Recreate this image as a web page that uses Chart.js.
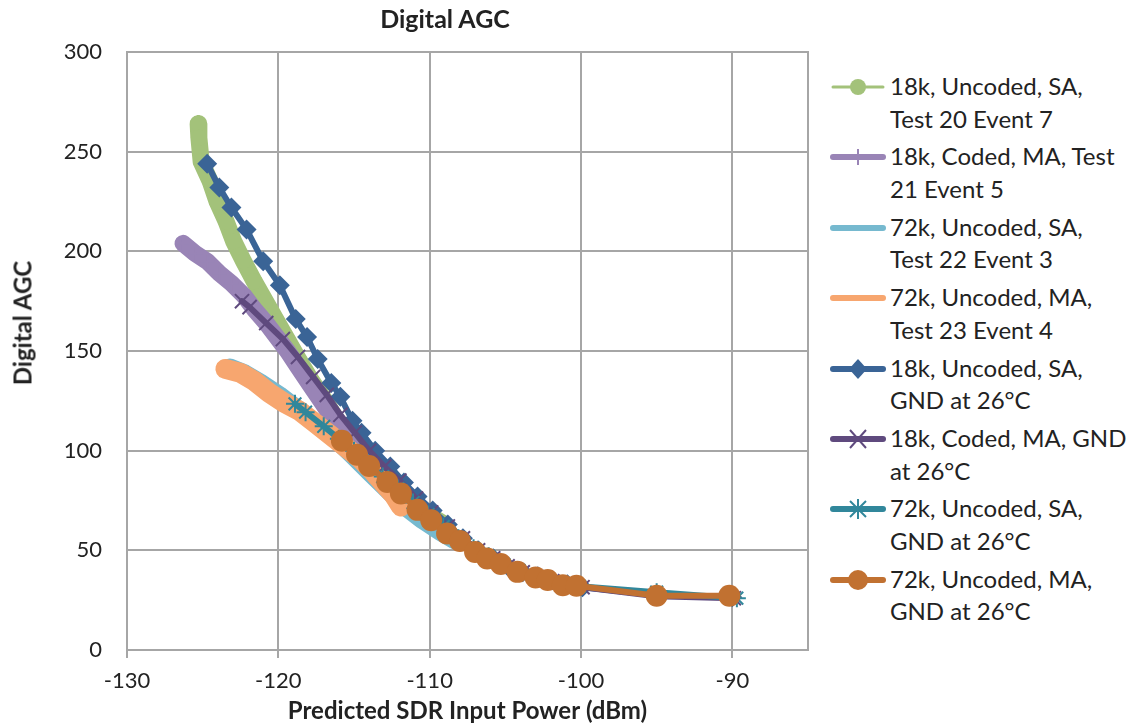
<!DOCTYPE html>
<html>
<head>
<meta charset="utf-8">
<title>Digital AGC</title>
<script src="https://cdn.jsdelivr.net/npm/chart.js@4/dist/chart.umd.min.js"></script>
<style>
  body { margin: 0; background: #fff; font-family: Lato, "Open Sans", sans-serif; color: #222; }
  #wrap { position: relative; width: 1129px; height: 727px; overflow: hidden; }
  #agcChart { position: absolute; left: 0; top: 0; }
  #chartTitle { position: absolute; left: 0; top: 3px; width: 890px; text-align: center;
                font-weight: bold; font-size: 25px; }
  #yTitle { position: absolute; left: 22px; top: 323px; transform: translate(-50%, -50%) rotate(-90deg);
            font-weight: bold; font-size: 24px; white-space: nowrap; }
  .legItem { position: absolute; left: 830px; width: 300px; height: 66px; }
  .legItem svg { position: absolute; left: 0; top: 0; }
  .legItem div { position: absolute; left: 60px; top: 0; font-size: 24px; line-height: 32.5px; white-space: nowrap; }
</style>
</head>
<body>
<div id="wrap">
  <canvas id="agcChart" width="820" height="727"></canvas>
  <div id="chartTitle">Digital AGC</div>
  <div id="yTitle">Digital AGC</div>
  <div id="legend"></div>
</div>
<script>
// --------------------------------------------------------------------------
// Daten
// --------------------------------------------------------------------------
const xTicks = [-130, -120, -110, -100, -90];

// 18k, Uncoded, SA, Test 20 Event 7
const test20X = [-125.3, -125.25, -125.1, -124.5, -124.05, -123.45, -122.95, -122.3, -121.6, -120.85, -120.1,
                 -119.35, -118.6, -117.8, -116.9, -116.1, -115.2, -114.1, -112.9, -111.7, -110.3, -109.0];
const test20Y = [264, 257, 245, 235, 225, 215, 205, 195, 185, 175, 165,
                 155, 145, 135, 125, 115, 105, 95, 85, 77, 69, 63];

// 18k, Coded, MA, Test 21 Event 5
const test21X = [-126.3, -125.5, -124.7, -123.9, -123.1, -122.3, -121.6, -120.8, -120.1, -119.4,
                 -118.7, -117.9, -117.1, -116.3, -115.5, -114.5, -113.3, -112.0, -110.5];
const test21Y = [204, 199, 195, 189, 184, 178, 171, 164, 157, 150,
                 142, 133, 124, 115, 105, 96, 87, 78, 70];

// 72k, Uncoded, SA, Test 22 Event 3
const test22X = [-123.2, -122.2, -121.1, -119.9, -118.7, -117.5, -116.3, -115.2, -114.0, -112.8,
                 -111.7, -110.5, -109.3, -108.4];
const test22Y = [142, 139, 134, 128, 121, 114, 106, 98, 89, 80,
                 72, 65, 59, 55];

// 72k, Uncoded, MA, Test 23 Event 4
const test23X = [-123.5, -122.5, -121.6, -120.6, -119.6, -118.6, -117.6, -116.6, -115.6, -114.6,
                 -113.8, -113.1, -112.4, -111.9];
const test23Y = [141, 139, 135, 129, 124, 120, 114, 108, 102, 96,
                 90, 84, 78, 72];

// 18k, Uncoded, SA, GND at 26°C
const gnd18kSAX = [-124.7, -123.9, -123.1, -122.1, -121.0, -119.9, -118.85, -118.1, -117.4, -116.5,
                   -115.9, -115.1, -114.5, -113.6, -112.6, -111.7, -110.8, -109.8, -108.8, -107.8,
                   -106.8, -105.8, -104.85, -103.85, -102.85, -101.9, -100.9, -99.9, -95.0, -90.0];
const gnd18kSAY = [244, 232, 222, 211, 195, 183, 166, 157, 146, 134,
                   127, 115, 109, 100, 92, 84, 77, 70, 63, 56,
                   50, 46, 42, 39, 37, 35, 33, 31.5, 27.5, 26.5];

// 18k, Coded, MA, GND at 26°C
const gnd18kMAX = [-122.4, -121.9, -120.8, -119.7, -118.7, -117.7, -116.8, -115.9, -114.95, -114.0,
                   -113.0, -112.0, -110.9, -109.9, -108.8, -107.8, -106.8, -105.8, -104.85, -103.85,
                   -102.9, -101.9, -100.9, -99.9, -95.0, -89.9];
const gnd18kMAY = [175, 172, 164, 156, 147, 137, 128, 118, 109, 100,
                   92, 85, 76, 69, 62, 56, 50, 46, 42, 39,
                   36.5, 34.5, 33, 31.5, 27, 26];

// 72k, Uncoded, SA, GND at 26°C
const gnd72kSAX = [-118.9, -118.2, -117.0, -116.0, -115.0, -114.1, -113.1, -112.1, -111.1, -110.1,
                   -109.1, -108.1, -107.1, -106.1, -105.1, -104.1, -103.1, -102.1, -101.1, -100.1,
                   -95.0, -89.7];
const gnd72kSAY = [123.5, 119.3, 112.2, 106, 100, 94, 87, 81, 74, 68,
                   62, 56, 51, 47, 43, 40, 37, 35, 33, 32,
                   29, 26];

// 72k, Uncoded, MA, GND at 26°C
const gnd72kMAX = [-115.8, -114.8, -114.0, -112.8, -111.9, -110.8, -109.9, -108.85, -108.0, -107.0,
                   -106.2, -105.3, -104.2, -103.0, -102.2, -101.2, -100.3, -95.0, -90.2];
const gnd72kMAY = [105, 98, 92.3, 84.3, 78.5, 70.3, 65.1, 58.4, 54.7, 49.2,
                   45.9, 43.1, 39.2, 36.4, 35.1, 32.5, 32.2, 27.2, 27.2];

const seriesLabels = [
  ['18k, Uncoded, SA,', 'Test 20 Event 7'],
  ['18k, Coded, MA, Test', '21 Event 5'],
  ['72k, Uncoded, SA,', 'Test 22 Event 3'],
  ['72k, Uncoded, MA,', 'Test 23 Event 4'],
  ['18k, Uncoded, SA,', 'GND at 26°C'],
  ['18k, Coded, MA, GND', 'at 26°C'],
  ['72k, Uncoded, SA,', 'GND at 26°C'],
  ['72k, Uncoded, MA,', 'GND at 26°C']
];

// --------------------------------------------------------------------------
// Stil
// --------------------------------------------------------------------------
const FONT = 'Lato, "Open Sans", sans-serif';
const GRID = '#a6a6a6';

const styles = [
  { color: '#a3c27a', width: 17, marker: 'circle',   radius: 8,  mBorder: 0, legLine: 3 },
  { color: '#9984b6', width: 17, marker: 'cross',    radius: 7,  mBorder: 2, legLine: 6 },
  { color: '#76b9cf', width: 17, marker: false,      radius: 0,  mBorder: 0, legLine: 6 },
  { color: '#f7a66f', width: 20, marker: false,      radius: 0,  mBorder: 0, legLine: 6 },
  { color: '#3a6496', width: 6,  marker: 'rectRot',  radius: 10, mBorder: 0, legLine: 6 },
  { color: '#5f4a7e', width: 6,  marker: 'crossRot', radius: 10, mBorder: 2, legLine: 6 },
  { color: '#31879b', width: 6,  marker: 'star',     radius: 9,  mBorder: 2, legLine: 6 },
  { color: '#c17131', width: 6,  marker: 'circle',   radius: 11, mBorder: 0, legLine: 6 }
];

const xs = [test20X, test21X, test22X, test23X, gnd18kSAX, gnd18kMAX, gnd72kSAX, gnd72kMAX];
const ys = [test20Y, test21Y, test22Y, test23Y, gnd18kSAY, gnd18kMAY, gnd72kSAY, gnd72kMAY];

function toPoints(xArr, yArr) {
  return xArr.map((x, i) => ({ x: x, y: yArr[i] }));
}

const datasets = xs.map((xArr, i) => {
  const s = styles[i];
  return {
    label: seriesLabels[i].join(' '),
    data: toPoints(xArr, ys[i]),
    showLine: true,
    order: 8 - i,            // spätere Serien liegen oben (wie in Excel)
    borderColor: s.color,
    backgroundColor: s.color,
    borderWidth: s.width,
    borderJoinStyle: 'round',
    borderCapStyle: 'round',
    tension: 0,
    pointStyle: s.marker,
    pointRadius: s.radius,
    pointHoverRadius: s.radius,
    pointBorderWidth: s.mBorder,
    pointBorderColor: s.color,
    pointBackgroundColor: s.color
  };
});

// Rahmen um den Plotbereich
const plotBorder = {
  id: 'plotBorder',
  beforeDatasetsDraw(chart) {
    const a = chart.chartArea;
    const c = chart.ctx;
    c.save();
    c.strokeStyle = GRID;
    c.lineWidth = 2;
    c.strokeRect(a.left, a.top, a.right - a.left, a.bottom - a.top);
    c.restore();
  }
};

new Chart(document.getElementById('agcChart'), {
  type: 'scatter',
  data: { datasets: datasets },
  plugins: [plotBorder],
  options: {
    responsive: false,
    animation: false,
    layout: { padding: { top: 52, right: 11, left: 0, bottom: 0 } },
    plugins: {
      legend: { display: false },
      title: { display: false },
      tooltip: { enabled: false }
    },
    scales: {
      x: {
        type: 'linear',
        min: -130,
        max: -85,
        afterBuildTicks: (scale) => { scale.ticks = xTicks.map(v => ({ value: v })); },
        afterFit: (scale) => { scale.height = 77; },
        ticks: { color: '#222', padding: 10, font: { family: FONT, size: 22 } },
        grid: { color: GRID, lineWidth: 2, tickLength: 8 },
        border: { color: GRID, width: 2 },
        title: {
          display: true,
          text: 'Predicted SDR Input Power (dBm)',
          color: '#222',
          font: { family: FONT, size: 24, weight: 'bold' },
          padding: { top: 0, bottom: 1 }
        }
      },
      y: {
        min: 0,
        max: 300,
        afterFit: (scale) => { scale.width = 127; },
        ticks: { stepSize: 50, color: '#222', padding: 25, font: { family: FONT, size: 22 } },
        grid: { color: GRID, lineWidth: 2, drawTicks: false },
        border: { color: GRID, width: 2 },
        title: { display: false }
      }
    }
  }
});

// --------------------------------------------------------------------------
// Legende (Excel-Stil: Linie mit Marker in der Mitte)
// --------------------------------------------------------------------------
function markerSvg(s) {
  const cx = 28, cy = 17, c = s.color;
  switch (s.marker) {
    case 'circle':
      return `<circle cx="${cx}" cy="${cy}" r="${Math.min(s.radius, 10)}" fill="${c}"/>`;
    case 'cross':
      return `<line x1="${cx}" y1="${cy - 8}" x2="${cx}" y2="${cy + 8}" stroke="${c}" stroke-width="2"/>`;
    case 'rectRot':
      return `<polygon points="${cx},${cy - 10} ${cx + 9},${cy} ${cx},${cy + 10} ${cx - 9},${cy}" fill="${c}"/>`;
    case 'crossRot':
      return `<path d="M${cx - 8} ${cy - 9}L${cx + 8} ${cy + 9}M${cx + 8} ${cy - 9}L${cx - 8} ${cy + 9}" stroke="${c}" stroke-width="2"/>`;
    case 'star':
      return `<path d="M${cx} ${cy - 10}L${cx} ${cy + 10}M${cx - 8} ${cy - 8}L${cx + 8} ${cy + 8}M${cx + 8} ${cy - 8}L${cx - 8} ${cy + 8}" stroke="${c}" stroke-width="2"/>`;
    default:
      return '';
  }
}

const legend = document.getElementById('legend');
seriesLabels.forEach((lines, i) => {
  const s = styles[i];
  const item = document.createElement('div');
  item.className = 'legItem';
  item.style.top = (70 + i * 70.4) + 'px';
  item.innerHTML =
    `<svg width="60" height="34"><line x1="3" y1="17" x2="53" y2="17" stroke="${s.color}" stroke-width="${s.legLine}" stroke-linecap="round"/>${markerSvg(s)}</svg>` +
    `<div>${lines[0]}<br>${lines[1]}</div>`;
  legend.appendChild(item);
});
</script>
</body>
</html>
